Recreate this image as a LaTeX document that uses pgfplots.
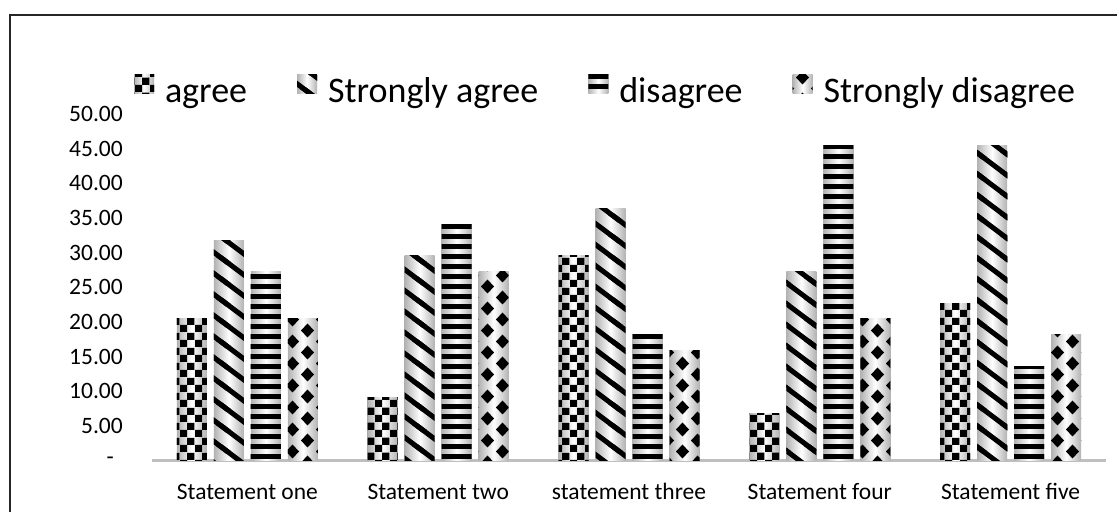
\documentclass[border=0pt]{standalone}
\usepackage{pgfplots}
\pgfplotsset{compat=1.18}
\usepackage{fontspec}
\setmainfont{Carlito}
\usetikzlibrary{patterns}

\pgfdeclarepatternformonly{chk}{\pgfqpoint{0bp}{0bp}}{\pgfqpoint{15bp}{15bp}}{\pgfqpoint{15bp}{15bp}}{%
  \pgfpathrectangle{\pgfqpoint{0bp}{0bp}}{\pgfqpoint{7.5bp}{7.5bp}}%
  \pgfpathrectangle{\pgfqpoint{7.5bp}{7.5bp}}{\pgfqpoint{7.5bp}{7.5bp}}%
  \pgfusepath{fill}}
\pgfdeclarepatternformonly{dlines}{\pgfqpoint{-2bp}{-2bp}}{\pgfqpoint{30bp}{23bp}}{\pgfqpoint{28bp}{21bp}}{%
  \pgfsetlinewidth{5bp}%
  \pgfpathmoveto{\pgfqpoint{-28bp}{21bp}}\pgfpathlineto{\pgfqpoint{28bp}{-21bp}}%
  \pgfpathmoveto{\pgfqpoint{0bp}{21bp}}\pgfpathlineto{\pgfqpoint{28bp}{0bp}}%
  \pgfpathmoveto{\pgfqpoint{0bp}{42bp}}\pgfpathlineto{\pgfqpoint{56bp}{0bp}}%
  \pgfusepath{stroke}}
\pgfdeclarepatternformonly{hlines}{\pgfqpoint{-1bp}{0bp}}{\pgfqpoint{11bp}{10bp}}{\pgfqpoint{10bp}{10bp}}{%
  \pgfpathrectangle{\pgfqpoint{-1bp}{3bp}}{\pgfqpoint{12bp}{4.5bp}}%
  \pgfusepath{fill}}
\newcommand\diamondat[2]{%
  \pgfpathmoveto{\pgfqpoint{\dimexpr#1+6.5bp\relax}{#2}}%
  \pgfpathlineto{\pgfqpoint{#1}{\dimexpr#2+7bp\relax}}%
  \pgfpathlineto{\pgfqpoint{\dimexpr#1-6.5bp\relax}{#2}}%
  \pgfpathlineto{\pgfqpoint{#1}{\dimexpr#2-7bp\relax}}%
  \pgfpathclose}
\pgfdeclarepatternformonly{diam}{\pgfqpoint{-2bp}{-3bp}}{\pgfqpoint{32bp}{25bp}}{\pgfqpoint{30bp}{22bp}}{%
  \diamondat{7.5bp}{5.5bp}\diamondat{22.5bp}{16.5bp}%
  \pgfusepath{fill}}

\pgfplotsset{
  shadebar/.style={draw=none, preaction={draw=none, left color=black!30, right color=black!30, middle color=white}, pattern color=black},
  sA/.style={shadebar, pattern=chk, bar shift=-55.5bp},
  sB/.style={shadebar, pattern=dlines, bar shift=-18.5bp},
  sC/.style={shadebar, pattern=hlines, bar shift=18.5bp},
  sD/.style={shadebar, pattern=diam, bar shift=55.5bp},
}

\begin{document}
\begin{tikzpicture}
\useasboundingbox (0bp,0bp) rectangle (1117bp,512bp);
\draw[line width=2bp, black!85] (10bp,-10bp) -- (10bp,497bp) -- (1130bp,497bp);
\begin{axis}[
  at={(152bp,51.3bp)}, anchor=south west,
  width=954bp, height=346.7bp, scale only axis,
  xmin=-0.5, xmax=4.5, ymin=0, ymax=50,
  clip=false,
  ybar, bar width=30bp,
  axis lines*=left,
  y axis line style={draw=none},
  x axis line style={draw=black!25, line width=3bp},
  major tick length=0pt,
  xtick={0,1,2,3,4},
  xticklabels={Statement one, Statement two, statement three, Statement four, Statement five},
  ytick={0,5,...,50},
  yticklabels={-\hspace*{9bp}, 5.00, 10.00, 15.00, 20.00, 25.00, 30.00, 35.00, 40.00, 45.00, 50.00},
  ticklabel style={font=\fontsize{23.5bp}{28bp}\selectfont, text=black},
  yticklabel style={anchor=east, inner sep=0pt, xshift=-29bp},
  xticklabel style={anchor=base, inner sep=0pt, yshift=-38.5bp},
  legend columns=4,
  legend style={draw=none, fill=none, inner sep=0pt, outer sep=0pt,
    at={(axis description cs:0,1)}, anchor=north west, xshift=-18bp, yshift=39bp,
    font=\fontsize{36bp}{43bp}\selectfont,
    nodes={inner sep=0pt, text height=27bp, text depth=9bp},
    /tikz/every odd column/.style={column sep=11bp},
    /tikz/every even column/.style={column sep=50bp}},
  legend cell align=left,
  legend image code/.code={\path[#1] (0bp,0bp) rectangle (20bp,19bp);},
]
% first bar of each series carries the legend entry
\addplot[sA] coordinates {(0,20.45)};
\addplot[sB] coordinates {(0,31.82)};
\addplot[sC] coordinates {(0,27.27)};
\addplot[sD] coordinates {(0,20.45)};
% agree
\addplot[sA, forget plot] coordinates {(1,9.09)};
\addplot[sA, forget plot] coordinates {(2,29.55)};
\addplot[sA, forget plot] coordinates {(3,6.82)};
\addplot[sA, forget plot] coordinates {(4,22.73)};
% Strongly agree
\addplot[sB, forget plot] coordinates {(1,29.55)};
\addplot[sB, forget plot] coordinates {(2,36.36)};
\addplot[sB, forget plot] coordinates {(3,27.27)};
\addplot[sB, forget plot] coordinates {(4,45.45)};
% disagree
\addplot[sC, forget plot] coordinates {(1,34.09)};
\addplot[sC, forget plot] coordinates {(2,18.18)};
\addplot[sC, forget plot] coordinates {(3,45.45)};
\addplot[sC, forget plot] coordinates {(4,13.64)};
% Strongly disagree
\addplot[sD, forget plot] coordinates {(1,27.27)};
\addplot[sD, forget plot] coordinates {(2,15.91)};
\addplot[sD, forget plot] coordinates {(3,20.45)};
\addplot[sD, forget plot] coordinates {(4,18.18)};
\legend{agree, Strongly agree, disagree, Strongly disagree}
\end{axis}
\end{tikzpicture}
\end{document}
